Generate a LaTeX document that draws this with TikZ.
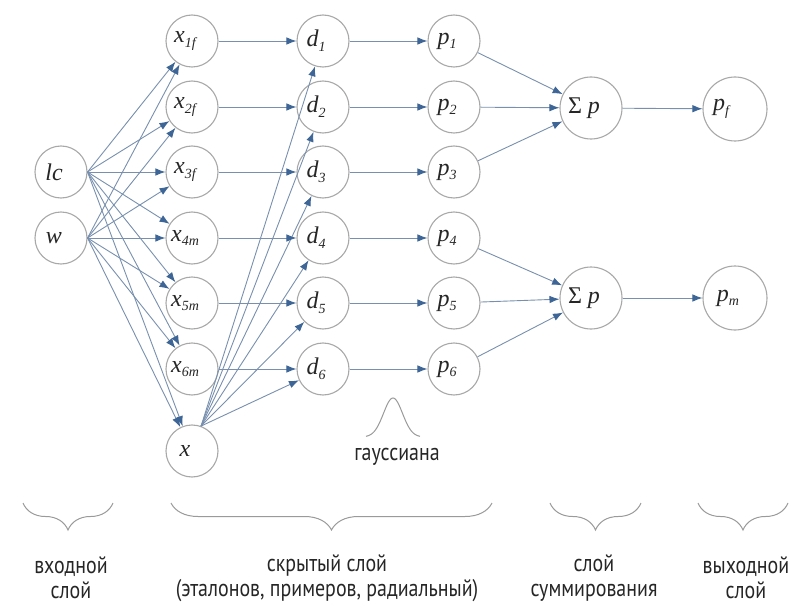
\documentclass[tikz,border=0pt]{standalone}
\usepackage{fontspec}
\setmainfont{Liberation Serif}
\newfontfamily\lblfont[FakeStretch=0.83]{PT Sans}
\usetikzlibrary{arrows.meta,decorations.pathreplacing}
\definecolor{ringgray}{HTML}{A8A8A8}
\definecolor{linkblue}{HTML}{7890AE}
\definecolor{tipblue}{HTML}{3D6596}
\definecolor{txtgray}{HTML}{262626}
\definecolor{bracegray}{HTML}{9A9A9A}
\newcommand{\lsub}[1]{\raisebox{-0.2em}{\fontsize{14}{14}\selectfont\itshape #1}}
\tikzset{
  neuron/.style={circle, draw=ringgray, line width=1.1pt, minimum size=52pt, inner sep=0pt,
    font=\fontsize{24}{26}\selectfont\itshape, text=txtgray,
    execute at end node={\hspace*{14pt}}},
  bigneuron/.style={neuron, minimum size=62pt},
  outneuron/.style={neuron, minimum size=64pt},
  link/.style={draw=linkblue, line width=0.9pt, -{Latex[length=10pt,width=7.5pt,color=tipblue]}},
  layerbrace/.style={draw=bracegray, line width=1pt, decorate, decoration={brace, mirror, amplitude=27pt, aspect=0.5}},
  layerlabel/.style={font=\lblfont\fontsize{24}{25}\selectfont, text=txtgray, align=center}
}
\begin{document}
\begin{tikzpicture}[x=1pt, y=-1pt]
\useasboundingbox (0,0) rectangle (807,610);
% input layer
\node[neuron] (lc) at (61,172) {lc};
\node[neuron] (w) at (61,238) {w};
% pattern layer
\node[neuron] (x1) at (192,41) {x\lsub{1f}};
\node[neuron] (x2) at (192,107) {x\lsub{2f}};
\node[neuron] (x3) at (192,172) {x\lsub{3f}};
\node[neuron] (x4) at (192,238) {x\lsub{4m}};
\node[neuron] (x5) at (192,303) {x\lsub{5m}};
\node[neuron] (x6) at (192,369) {x\lsub{6m}};
\node[neuron] (x) at (192,451) {x};
% distances
\node[neuron] (d1) at (323,41) {d\lsub{1}};
\node[neuron] (d2) at (323,107) {d\lsub{2}};
\node[neuron] (d3) at (323,172) {d\lsub{3}};
\node[neuron] (d4) at (323,238) {d\lsub{4}};
\node[neuron] (d5) at (323,303) {d\lsub{5}};
\node[neuron] (d6) at (323,369) {d\lsub{6}};
% gaussians
\node[neuron] (p1) at (454,41) {p\lsub{1}};
\node[neuron] (p2) at (454,107) {p\lsub{2}};
\node[neuron] (p3) at (454,172) {p\lsub{3}};
\node[neuron] (p4) at (454,238) {p\lsub{4}};
\node[neuron] (p5) at (454,303) {p\lsub{5}};
\node[neuron] (p6) at (454,369) {p\lsub{6}};
% summation
\node[bigneuron] (s1) at (591,108) {{\upshape Σ} p};
\node[bigneuron] (s2) at (591,298) {{\upshape Σ} p};
% outputs
\node[outneuron] (pf) at (735,109) {p\lsub{f}\hspace*{14pt}};
\node[outneuron] (pm) at (735,298) {p\lsub{m}};
% input -> pattern
\foreach \t in {x1,x2,x3,x4,x5,x6,x} {
  \draw[link] (lc.east) -- (\t);
  \draw[link] (w.east) -- (\t);
}
% pattern -> distance
\foreach \i in {1,...,6} {
  \draw[link] (x\i) -- (d\i);
  \draw[link] (x.70) -- (d\i);
  \draw[link] (d\i) -- (p\i);
}
% gaussian -> sum
\foreach \i in {1,2,3} { \draw[link] (p\i) -- (s1); }
\foreach \i in {4,5,6} { \draw[link] (p\i) -- (s2); }
\draw[link] (s1) -- (pf);
\draw[link] (s2) -- (pm);
% gaussian curve
\draw[bracegray, line width=1pt] plot[domain=-27:27, samples=61, smooth] ({393+\x},{437-39*exp(-(\x/9.5)^2/2)});
\node[layerlabel] (gauss) at (397,457) {гауссиана};
% braces
\coordinate (b1a) at (23,503); \coordinate (b1b) at (113,503);
\coordinate (b2a) at (171,503); \coordinate (b2b) at (492,503);
\coordinate (b3a) at (550,503); \coordinate (b3b) at (641,503);
\coordinate (b4a) at (698,503); \coordinate (b4b) at (788,503);
\draw[layerbrace] (b1a) -- (b1b);
\draw[layerbrace] (b2a) -- (b2b);
\draw[layerbrace] (b3a) -- (b3b);
\draw[layerbrace] (b4a) -- (b4b);
% labels
\node[layerlabel] (lin) at (71,578) {входной\\слой};
\node[layerlabel] (lhid) at (327,578) {скрытый слой\\(эталонов, примеров, радиальный)};
\node[layerlabel] (lsum) at (594,578) {слой\\суммирования};
\node[layerlabel] (lout) at (746,578) {выходной\\слой};
\end{tikzpicture}
\end{document}
